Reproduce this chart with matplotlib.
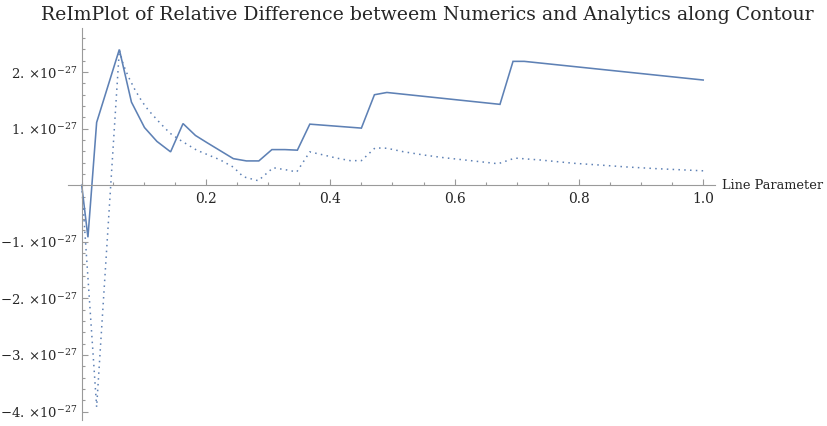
import matplotlib
matplotlib.use("Agg")
import matplotlib.pyplot as plt
from matplotlib.ticker import MultipleLocator, FuncFormatter, FixedLocator

plt.rcParams["font.family"] = ["DejaVu Serif"]
plt.rcParams["mathtext.fontset"] = "dejavuserif"

SCALE = 1e-27

# Real part (solid line), y in units of 1e-27
re_x = [0.0, 0.010, 0.024, 0.0605, 0.080, 0.101, 0.121, 0.143, 0.163, 0.183,
        0.202, 0.244, 0.265, 0.285, 0.306, 0.327, 0.347, 0.367, 0.450, 0.471,
        0.491, 0.673, 0.694, 0.712, 1.0]
re_y = [0.0, -0.92, 1.11, 2.40, 1.47, 1.02, 0.775, 0.59, 1.09, 0.88,
        0.75, 0.47, 0.43, 0.43, 0.63, 0.63, 0.62, 1.08, 1.01, 1.60,
        1.64, 1.43, 2.19, 2.19, 1.86]

# Imaginary part (dotted line), y in units of 1e-27
im_x = [0.0, 0.024, 0.0605, 0.067, 0.075, 0.086, 0.097, 0.107, 0.126, 0.142,
        0.158, 0.185, 0.2225, 0.244, 0.260, 0.284, 0.308, 0.330, 0.346, 0.367,
        0.389, 0.410, 0.432, 0.450, 0.472, 0.491, 0.517, 0.550, 0.582, 0.630,
        0.670, 0.697, 0.737, 0.791, 0.831, 0.877, 0.925, 1.0]
im_y = [0.0, -3.92, 2.39, 2.13, 1.92, 1.68, 1.48, 1.33, 1.10, 0.92,
        0.80, 0.62, 0.45, 0.32, 0.15, 0.08, 0.31, 0.27, 0.235, 0.59,
        0.535, 0.48, 0.435, 0.435, 0.66, 0.654, 0.594, 0.535, 0.488, 0.43,
        0.38, 0.48, 0.447, 0.389, 0.359, 0.323, 0.293, 0.255]

LINE_COLOR = "#5E81B5"
AXIS_COLOR = "#9a9a9a"
TEXT_COLOR = "#262626"

fig = plt.figure(figsize=(8.27, 4.26), dpi=100)
ax = fig.add_axes([68.3 / 827, 6 / 426, (715 - 68.3) / 827, (420 - 27.7) / 426])

ax.plot(re_x, [v * SCALE for v in re_y], color=LINE_COLOR, lw=1.15,
        solid_joinstyle="miter")
ax.plot(im_x, [v * SCALE for v in im_y], color=LINE_COLOR, lw=1.1,
        linestyle=(0, (1, 2.8)))

ax.set_xlim(-0.0216, 1.019)
ax.set_ylim(-4.15 * SCALE, 2.785 * SCALE)

# ejes cruzando en el origen, como en Mathematica
for side in ["top", "right"]:
    ax.spines[side].set_visible(False)
ax.spines["left"].set_position(("data", 0))
ax.spines["bottom"].set_position(("data", 0))
for side in ["left", "bottom"]:
    ax.spines[side].set_color(AXIS_COLOR)
    ax.spines[side].set_linewidth(0.8)

ax.xaxis.set_major_locator(FixedLocator([0.2, 0.4, 0.6, 0.8, 1.0]))
ax.xaxis.set_minor_locator(MultipleLocator(0.05))
ax.yaxis.set_major_locator(FixedLocator([v * SCALE for v in [-4, -3, -2, -1, 1, 2]]))
ax.yaxis.set_minor_locator(MultipleLocator(0.2 * SCALE))


def _fmt_y(v, pos):
    n = int(round(v / SCALE))
    return r"$%d.\,{\times}10^{-27}$" % n


ax.xaxis.set_major_formatter(FuncFormatter(lambda v, p: "%.1f" % v))
ax.yaxis.set_major_formatter(FuncFormatter(_fmt_y))

ax.tick_params(which="both", direction="in", color=AXIS_COLOR, width=0.8,
               labelcolor=TEXT_COLOR, labelsize=9.5)
ax.tick_params(which="major", length=4, pad=3)
ax.tick_params(which="minor", length=2.5)
ax.tick_params(axis="x", which="major", labelsize=10, pad=5)

ax.text(1.011, 0, "Line Parameter", transform=ax.get_yaxis_transform(),
        fontsize=9.3, color=TEXT_COLOR, ha="left", va="center")
ax.yaxis.offsetText.set_visible(False)

fig.text(427 / 827, 1 - 15 / 426, "ReImPlot of Relative Difference betweem Numerics and Analytics along Contour",
         ha="center", va="center", fontsize=13.6, color=TEXT_COLOR)

fig.savefig("out.png", dpi=100)
plt.close(fig)
